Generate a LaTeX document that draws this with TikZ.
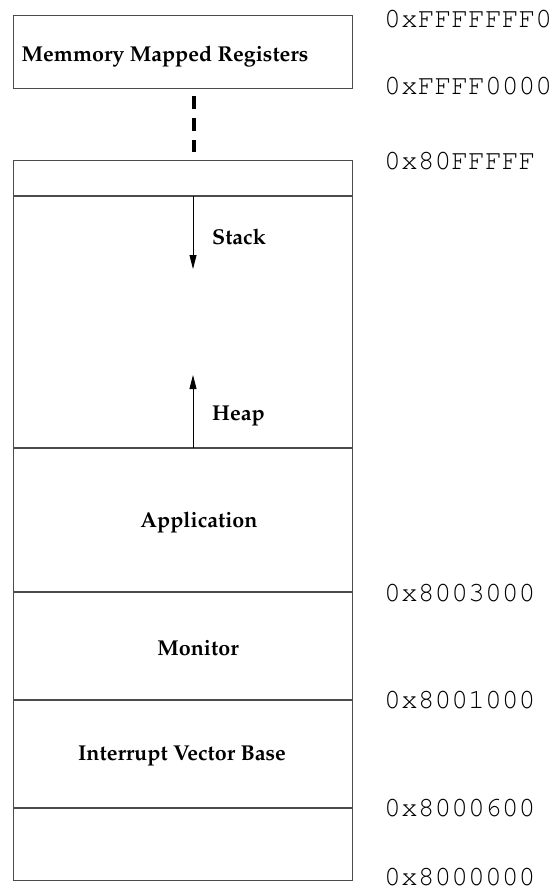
\documentclass[tikz,border=0pt]{standalone}
\usepackage[T1]{fontenc}
\usepackage{palatino}
\usepackage{courier}
\usetikzlibrary{arrows.meta}
\begin{document}
\begin{tikzpicture}[x=1pt,y=-1pt,
  region/.style={draw=black!70,line width=1.2pt},
  divider/.style={draw=black!70,line width=1.2pt},
  lbl/.style={font=\fontsize{21.5}{24}\selectfont\bfseries,inner sep=0pt},
  addr/.style={font=\fontsize{28}{30}\selectfont\ttfamily,anchor=west,inner sep=0pt},
  growarrow/.style={draw=black,line width=0.9pt,-{Triangle[length=14pt,width=7pt]}}]
\useasboundingbox (0,0) rectangle (556,892);
% memory-mapped register block
\node[region,minimum width=339pt,minimum height=73pt,anchor=north west,inner sep=0pt] (mmr) at (13,15) {};
\node[lbl] (mmrt) at (165,56) {Memmory Mapped Registers};
% main memory column
\node[region,minimum width=339pt,minimum height=720pt,anchor=north west,inner sep=0pt] (mem) at (13,160) {};
\coordinate (s1l) at (13,196);  \coordinate (s1r) at (352,196);
\coordinate (s2l) at (13,448);  \coordinate (s2r) at (352,448);
\coordinate (s3l) at (13,592);  \coordinate (s3r) at (352,592);
\coordinate (s4l) at (13,700);  \coordinate (s4r) at (352,700);
\coordinate (s5l) at (13,808);  \coordinate (s5r) at (352,808);
\draw[divider] (s1l) -- (s1r);
\draw[divider] (s2l) -- (s2r);
\draw[divider] (s3l) -- (s3r);
\draw[divider] (s4l) -- (s4r);
\draw[divider] (s5l) -- (s5r);
% gap between the two blocks
\coordinate (gapt) at (194,96);
\coordinate (gapb) at (194,152);
\draw[line width=3.5pt,dash pattern=on 13pt off 9pt] (gapt) -- (gapb);
% stack and heap growth
\coordinate (stk0) at (193,196); \coordinate (stk1) at (193,269);
\coordinate (hp0) at (193,448);  \coordinate (hp1) at (193,375);
\draw[growarrow] (stk0) -- (stk1);
\draw[growarrow] (hp0) -- (hp1);
\node[lbl,anchor=west] (stack) at (212,237) {Stack};
\node[lbl,anchor=west] (heap) at (212,416) {Heap};
% segment names
\node[lbl] (app) at (199,522) {Application};
\node[lbl] (mon) at (198,648) {Monitor};
\node[lbl] (ivb) at (182,756) {Interrupt Vector Base};
% addresses
\node[addr] (a0) at (384,19) {0xFFFFFFF0};
\node[addr] (a1) at (384,86) {0xFFFF0000};
\node[addr] (a2) at (384,161) {0x80FFFFF};
\node[addr] (a3) at (384,593) {0x8003000};
\node[addr] (a4) at (384,700) {0x8001000};
\node[addr] (a5) at (384,808) {0x8000600};
\node[addr] (a6) at (384,877) {0x8000000};
\end{tikzpicture}
\end{document}
